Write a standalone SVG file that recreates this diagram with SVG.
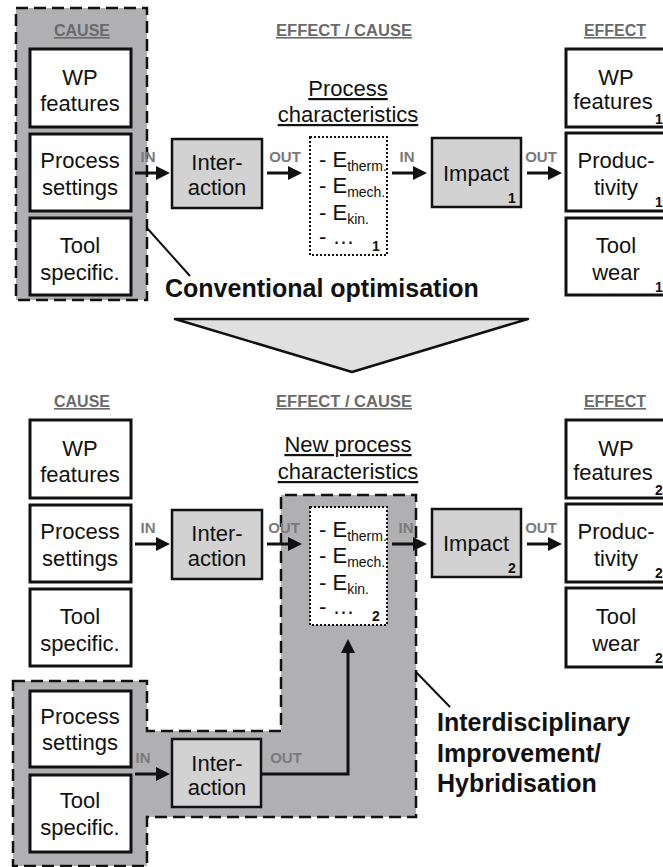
<svg xmlns="http://www.w3.org/2000/svg" width="663" height="867" viewBox="0 0 663 867">
<defs>
<style>
.box{fill:#fff;stroke:#111;stroke-width:3}
.gbox{fill:#d2d2d2;stroke:#111;stroke-width:2.5}
.dot{fill:#fff;stroke:#111;stroke-width:2;stroke-dasharray:2 2}
.region{fill:#b0b0b3;stroke:#111;stroke-width:2.5;stroke-dasharray:12 6}
text{font-family:"Liberation Sans",Arial,sans-serif;fill:#111}
.t{font-size:22px;text-anchor:middle}
.l{font-size:22px}
.h{font-size:16px;font-weight:bold;fill:#6a6a6a;text-anchor:middle;text-decoration:underline}
.io{font-size:15px;font-weight:bold;fill:#7a7a7a;text-anchor:middle}
.sub{font-size:14px;font-weight:bold}
.es{font-size:14px}
.big{font-size:25px;font-weight:bold}
.conn{stroke:#111;stroke-width:3;fill:none}
.thin{stroke:#111;stroke-width:2;fill:none}
</style>
<marker id="ah" markerUnits="userSpaceOnUse" markerWidth="14" markerHeight="14" viewBox="0 0 14 14" refX="6" refY="7" orient="auto">
<path d="M0,0 L14,7 L0,14 z" fill="#111"/>
</marker>
</defs>
<rect width="663" height="867" fill="#fff"/>

<!-- ===== TOP SECTION ===== -->
<g id="cause-region-1"><rect class="region" x="16" y="8" width="131" height="292"/></g>
<g id="hdr-cause-1"><text class="h" x="82" y="36">CAUSE</text></g>
<g id="hdr-effcause-1"><text class="h" x="344" y="36" textLength="136" lengthAdjust="spacingAndGlyphs">EFFECT / CAUSE</text></g>
<g id="hdr-effect-1"><text class="h" x="615" y="36">EFFECT</text></g>

<g id="wp-cause-1"><rect class="box" x="30" y="49" width="101" height="78"/><text class="t" x="80" y="85">WP</text><text class="t" x="80" y="111">features</text></g>
<g id="ps-cause-1"><rect class="box" x="30" y="134" width="101" height="77"/><text class="t" x="80" y="168">Process</text><text class="t" x="80" y="195">settings</text></g>
<g id="ts-cause-1"><rect class="box" x="30" y="218" width="101" height="77"/><text class="t" x="80" y="253">Tool</text><text class="t" x="80" y="280">specific.</text></g>

<g id="interaction-1"><rect class="gbox" x="172" y="139" width="90" height="69"/><text class="t" x="217" y="170">Inter-</text><text class="t" x="217" y="195">action</text></g>

<g id="title-pc-1"><text class="t" x="348" y="96" text-decoration="underline">Process</text><text class="t" x="348" y="122" text-decoration="underline">characteristics</text></g>

<g id="pc-1"><rect class="dot" x="310" y="137" width="77" height="118"/>
<text class="l" x="319" y="167">- E<tspan class="es" dy="4">therm.</tspan></text>
<text class="l" x="319" y="193">- E<tspan class="es" dy="4">mech.</tspan></text>
<text class="l" x="319" y="220">- E<tspan class="es" dy="4">kin.</tspan></text>
<text class="l" x="319" y="244">- …</text>
<text class="sub" x="372" y="251">1</text></g>

<g id="impact-1"><rect class="gbox" x="432" y="138" width="89" height="69"/><text class="t" x="476" y="181">Impact</text><text class="sub" x="508" y="203">1</text></g>

<g id="wp-effect-1"><rect class="box" x="566" y="49" width="110" height="78"/><text class="t" x="616" y="85">WP</text><text class="t" x="613" y="109">features</text><text class="sub" x="655" y="124">1</text></g>
<g id="prod-effect-1"><rect class="box" x="566" y="133" width="110" height="78"/><text class="t" x="616" y="168">Produc-</text><text class="t" x="616" y="195">tivity</text><text class="sub" x="655" y="207">1</text></g>
<g id="tw-effect-1"><rect class="box" x="566" y="218" width="110" height="77"/><text class="t" x="616" y="253">Tool</text><text class="t" x="616" y="280">wear</text><text class="sub" x="655" y="292">1</text></g>

<g id="label-conv"><text class="big" x="165" y="297">Conventional optimisation</text></g>

<g id="transition-arrow"><polygon points="175,319 528,319 352,372" fill="#e0e0e0" stroke="#111" stroke-width="2.5" stroke-linejoin="round"/></g>

<!-- ===== BOTTOM SECTION ===== -->
<g id="hybrid-region"><path class="region" d="M13,681 L147,681 L147,731 L281,731 L281,495 L416,495 L416,817 L147,817 L147,866 L13,866 Z"/></g>
<g id="hdr-cause-2"><text class="h" x="82" y="407">CAUSE</text></g>
<g id="hdr-effcause-2"><text class="h" x="344" y="407" textLength="136" lengthAdjust="spacingAndGlyphs">EFFECT / CAUSE</text></g>
<g id="hdr-effect-2"><text class="h" x="615" y="407">EFFECT</text></g>

<g id="wp-cause-2"><rect class="box" x="30" y="420" width="101" height="78"/><text class="t" x="80" y="456">WP</text><text class="t" x="80" y="482">features</text></g>
<g id="ps-cause-2"><rect class="box" x="30" y="505" width="101" height="77"/><text class="t" x="80" y="539">Process</text><text class="t" x="80" y="566">settings</text></g>
<g id="ts-cause-2"><rect class="box" x="30" y="589" width="101" height="77"/><text class="t" x="80" y="624">Tool</text><text class="t" x="80" y="651">specific.</text></g>

<g id="interaction-2"><rect class="gbox" x="172" y="510" width="90" height="69"/><text class="t" x="217" y="541">Inter-</text><text class="t" x="217" y="566">action</text></g>

<g id="title-pc-2"><text class="t" x="348" y="452" text-decoration="underline">New process</text><text class="t" x="348" y="479" text-decoration="underline">characteristics</text></g>

<g id="pc-2"><rect class="dot" x="310" y="507" width="77" height="118"/>
<text class="l" x="319" y="537">- E<tspan class="es" dy="4">therm.</tspan></text>
<text class="l" x="319" y="563">- E<tspan class="es" dy="4">mech.</tspan></text>
<text class="l" x="319" y="590">- E<tspan class="es" dy="4">kin.</tspan></text>
<text class="l" x="319" y="614">- …</text>
<text class="sub" x="372" y="621">2</text></g>

<g id="impact-2"><rect class="gbox" x="432" y="509" width="89" height="68"/><text class="t" x="476" y="551">Impact</text><text class="sub" x="508" y="573">2</text></g>

<g id="wp-effect-2"><rect class="box" x="566" y="420" width="110" height="78"/><text class="t" x="616" y="456">WP</text><text class="t" x="613" y="480">features</text><text class="sub" x="655" y="495">2</text></g>
<g id="prod-effect-2"><rect class="box" x="566" y="504" width="110" height="78"/><text class="t" x="616" y="539">Produc-</text><text class="t" x="616" y="566">tivity</text><text class="sub" x="655" y="578">2</text></g>
<g id="tw-effect-2"><rect class="box" x="566" y="588" width="110" height="79"/><text class="t" x="616" y="624">Tool</text><text class="t" x="616" y="651">wear</text><text class="sub" x="655" y="663">2</text></g>

<g id="ps-new"><rect class="box" x="30" y="691" width="101" height="76"/><text class="t" x="80" y="724">Process</text><text class="t" x="80" y="750">settings</text></g>
<g id="ts-new"><rect class="box" x="30" y="775" width="101" height="77"/><text class="t" x="80" y="808">Tool</text><text class="t" x="80" y="835">specific.</text></g>
<g id="interaction-new"><rect class="gbox" x="172" y="739" width="89" height="68"/><text class="t" x="217" y="771">Inter-</text><text class="t" x="217" y="795">action</text></g>

<g id="label-hybrid"><text class="big" x="437" y="731">Interdisciplinary</text><text class="big" x="437" y="762">Improvement/</text><text class="big" x="437" y="792">Hybridisation</text></g>

<!-- ===== CONNECTORS ===== -->
<g id="connectors">
<line class="conn" x1="135" y1="173" x2="162" y2="173" marker-end="url(#ah)"/>
<line class="conn" x1="267" y1="173" x2="294" y2="173" marker-end="url(#ah)"/>
<line class="conn" x1="392" y1="173" x2="419" y2="173" marker-end="url(#ah)"/>
<line class="conn" x1="527" y1="173" x2="554" y2="173" marker-end="url(#ah)"/>
<line class="thin" x1="147" y1="228" x2="190" y2="276"/>

<line class="conn" x1="135" y1="544" x2="162" y2="544" marker-end="url(#ah)"/>
<line class="conn" x1="267" y1="544" x2="294" y2="544" marker-end="url(#ah)"/>
<line class="conn" x1="392" y1="544" x2="419" y2="544" marker-end="url(#ah)"/>
<line class="conn" x1="527" y1="544" x2="554" y2="544" marker-end="url(#ah)"/>

<line class="conn" x1="135" y1="774" x2="162" y2="774" marker-end="url(#ah)"/>
<polyline class="conn" points="261,774 348,774 348,647" marker-end="url(#ah)"/>
<line class="thin" x1="416" y1="672" x2="450" y2="707"/>

<text class="io" x="148" y="162">IN</text>
<text class="io" x="285" y="162">OUT</text>
<text class="io" x="407" y="162">IN</text>
<text class="io" x="541" y="162">OUT</text>
<text class="io" x="148" y="533">IN</text>
<text class="io" x="284" y="533">OUT</text>
<text class="io" x="406" y="533">IN</text>
<text class="io" x="541" y="533">OUT</text>
<text class="io" x="143" y="763">IN</text>
<text class="io" x="286" y="763">OUT</text>
</g>
</svg>
